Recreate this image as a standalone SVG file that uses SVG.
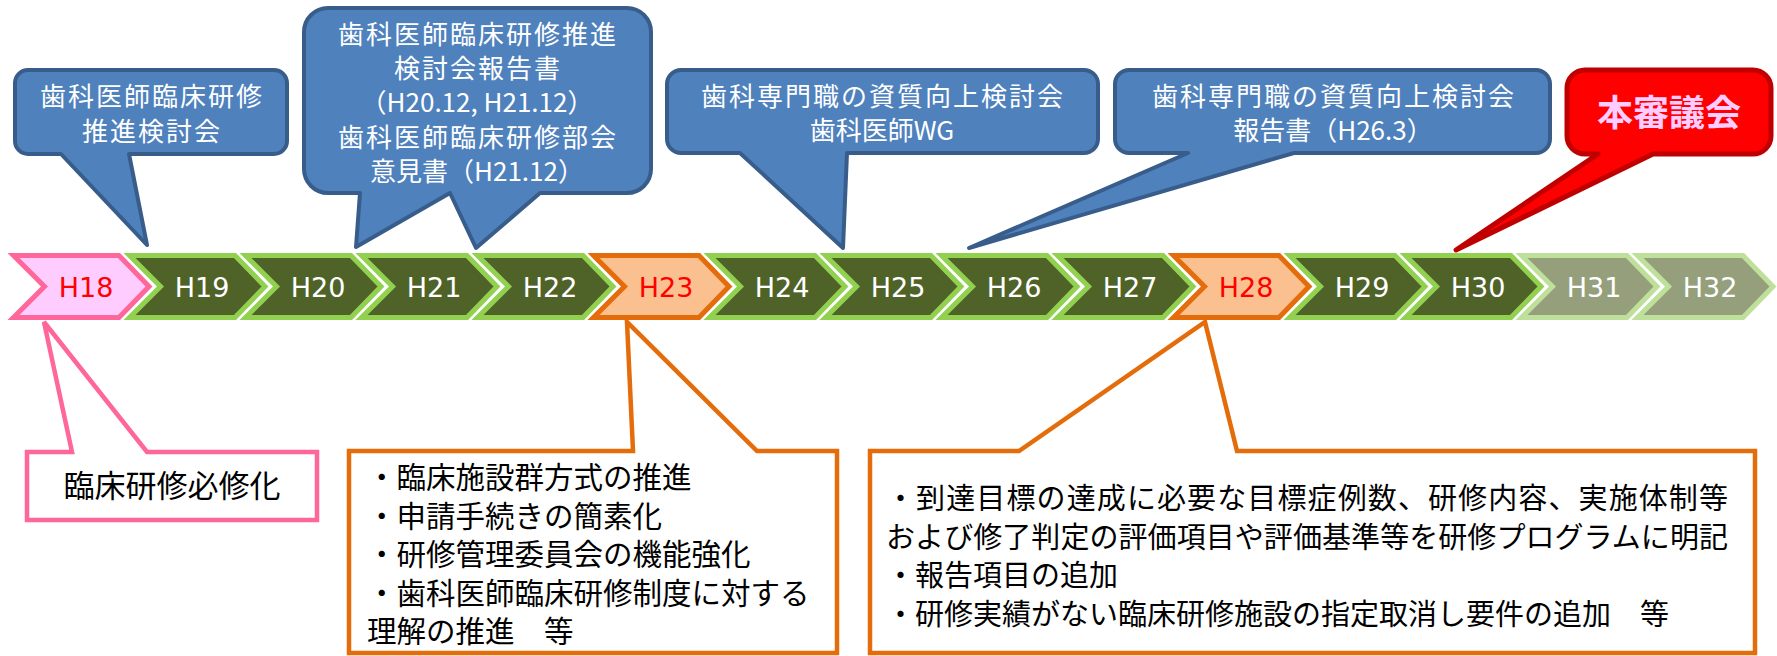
<svg xmlns="http://www.w3.org/2000/svg" width="1777" height="656" viewBox="0 0 1777 656">
<style>
.bub{fill:#4F81BD;stroke:#385D8A;stroke-width:4;stroke-linejoin:round}
.red{fill:#FF0000;stroke:#C00000;stroke-width:5;stroke-linejoin:round}
.bt{font-family:"Noto Sans CJK JP","Noto Sans CJK SC",sans-serif;font-size:26px;fill:#FFFFFF;text-anchor:middle}
.sp{letter-spacing:2px}
.rt{font-family:"Noto Sans CJK JP","Noto Sans CJK SC",sans-serif;font-size:36px;font-weight:bold;fill:#FFCCFF;text-anchor:middle}
.pinkbox{fill:#FFFFFF;stroke:#FF6699;stroke-width:4.5;stroke-linejoin:miter}
.orbox{fill:#FFFFFF;stroke:#E46C0A;stroke-width:4.5;stroke-linejoin:miter}
.kt{font-family:"Noto Sans CJK JP","Noto Sans CJK SC",sans-serif;fill:#000000}
.chev{stroke-width:5;stroke-linejoin:miter}
.c-pink{fill:#FFCCFF;stroke:#FF6699}
.c-green{fill:#4F6228;stroke:#92D050}
.c-orange{fill:#FAC090;stroke:#E46C0A}
.c-grey{fill:#959F7B;stroke:#BFE09A}
.ct{font-family:"DejaVu Sans",Verdana,sans-serif;font-size:27px;text-anchor:middle;fill:#FFFFFF}
.ct-red{fill:#FF0000}
</style>
<defs>
<polygon id="chevshape" points="3.5,255.5 109,255.5 139,286.5 109,317.5 3.5,317.5 34.5,286.5"/>
</defs>

<g id="connectors"></g>

<!-- bottom callouts -->
<g id="note-h18">
<path class="pinkbox" d="M 27 452 H 72 L 44 322 L 147 452 H 317 V 520 H 27 Z"/>
<text class="kt" x="172" y="497" font-size="31" text-anchor="middle">臨床研修必修化</text>
</g>
<g id="note-h23">
<path class="orbox" d="M 349 451 H 633 L 627 322 L 757 451 H 837 V 653 H 349 Z"/>
<g class="kt" font-size="29.5">
<text x="367" y="488">・臨床施設群方式の推進</text>
<text x="367" y="526.5">・申請手続きの簡素化</text>
<text x="367" y="565">・研修管理委員会の機能強化</text>
<text x="367" y="603.5">・歯科医師臨床研修制度に対する</text>
<text x="367" y="642">理解の推進　等</text>
</g>
</g>
<g id="note-h28">
<path class="orbox" d="M 870 451 H 1019 L 1205 322 L 1237 451 H 1755 V 653 H 870 Z"/>
<g class="kt" font-size="29">
<text x="886" y="509" textLength="842" lengthAdjust="spacing">・到達目標の達成に必要な目標症例数、研修内容、実施体制等</text>
<text x="886" y="547.5" textLength="842" lengthAdjust="spacing">および修了判定の評価項目や評価基準等を研修プログラムに明記</text>
<text x="886" y="586">・報告項目の追加</text>
<text x="886" y="624.5">・研修実績がない臨床研修施設の指定取消し要件の追加　等</text>
</g>
</g>

<!-- timeline chevrons -->
<g id="h18" transform="translate(10,0)"><use href="#chevshape" class="chev c-pink"/><text class="ct ct-red" x="76" y="297">H18</text></g>
<g id="h19" transform="translate(126,0)"><use href="#chevshape" class="chev c-green"/><text class="ct" x="76" y="297">H19</text></g>
<g id="h20" transform="translate(242,0)"><use href="#chevshape" class="chev c-green"/><text class="ct" x="76" y="297">H20</text></g>
<g id="h21" transform="translate(358,0)"><use href="#chevshape" class="chev c-green"/><text class="ct" x="76" y="297">H21</text></g>
<g id="h22" transform="translate(474,0)"><use href="#chevshape" class="chev c-green"/><text class="ct" x="76" y="297">H22</text></g>
<g id="h23" transform="translate(590,0)"><use href="#chevshape" class="chev c-orange"/><text class="ct ct-red" x="76" y="297">H23</text></g>
<g id="h24" transform="translate(706,0)"><use href="#chevshape" class="chev c-green"/><text class="ct" x="76" y="297">H24</text></g>
<g id="h25" transform="translate(822,0)"><use href="#chevshape" class="chev c-green"/><text class="ct" x="76" y="297">H25</text></g>
<g id="h26" transform="translate(938,0)"><use href="#chevshape" class="chev c-green"/><text class="ct" x="76" y="297">H26</text></g>
<g id="h27" transform="translate(1054,0)"><use href="#chevshape" class="chev c-green"/><text class="ct" x="76" y="297">H27</text></g>
<g id="h28" transform="translate(1170,0)"><use href="#chevshape" class="chev c-orange"/><text class="ct ct-red" x="76" y="297">H28</text></g>
<g id="h29" transform="translate(1286,0)"><use href="#chevshape" class="chev c-green"/><text class="ct" x="76" y="297">H29</text></g>
<g id="h30" transform="translate(1402,0)"><use href="#chevshape" class="chev c-green"/><text class="ct" x="76" y="297">H30</text></g>
<g id="h31" transform="translate(1518,0)"><use href="#chevshape" class="chev c-grey"/><text class="ct" x="76" y="297">H31</text></g>
<g id="h32" transform="translate(1634,0)"><use href="#chevshape" class="chev c-grey"/><text class="ct" x="76" y="297">H32</text></g>

<!-- top callouts -->
<g id="callout-1">
<path class="bub" d="M 28 70 H 274 A 13 13 0 0 1 287 83 V 141 A 13 13 0 0 1 274 154 H 129 L 147 245 L 61 154 H 28 A 13 13 0 0 1 15 141 V 83 A 13 13 0 0 1 28 70 Z"/>
<text class="bt sp" x="152" y="106">歯科医師臨床研修</text>
<text class="bt sp" x="152" y="141">推進検討会</text>
</g>
<g id="callout-2">
<path class="bub" d="M 328 8 H 627 A 24 24 0 0 1 651 32 V 169 A 24 24 0 0 1 627 193 H 540 L 476 248 L 450 193 L 356 247 L 360 193 H 328 A 24 24 0 0 1 304 169 V 32 A 24 24 0 0 1 328 8 Z"/>
<text class="bt sp" x="478" y="44">歯科医師臨床研修推進</text>
<text class="bt sp" x="478" y="78">検討会報告書</text>
<text class="bt" x="477" y="112">（H20.12, H21.12）</text>
<text class="bt sp" x="478" y="147">歯科医師臨床研修部会</text>
<text class="bt" x="477" y="181">意見書（H21.12）</text>
</g>
<g id="callout-3">
<path class="bub" d="M 681 70 H 1084 A 14 14 0 0 1 1098 84 V 139 A 14 14 0 0 1 1084 153 H 847 L 843 248 L 740 153 H 681 A 14 14 0 0 1 667 139 V 84 A 14 14 0 0 1 681 70 Z"/>
<text class="bt sp" x="883" y="106">歯科専門職の資質向上検討会</text>
<text class="bt" x="882" y="140">歯科医師WG</text>
</g>
<g id="callout-4">
<path class="bub" d="M 1129 70 H 1536 A 14 14 0 0 1 1550 84 V 139 A 14 14 0 0 1 1536 153 H 1294 L 969 248 L 1188 153 H 1129 A 14 14 0 0 1 1115 139 V 84 A 14 14 0 0 1 1129 70 Z"/>
<text class="bt sp" x="1334" y="106">歯科専門職の資質向上検討会</text>
<text class="bt" x="1333" y="140">報告書（H26.3）</text>
</g>
<g id="callout-5">
<path class="red" d="M 1585 70 H 1753 A 18 18 0 0 1 1771 88 V 136 A 18 18 0 0 1 1753 154 H 1653 L 1456 250 L 1598 154 H 1585 A 18 18 0 0 1 1567 136 V 88 A 18 18 0 0 1 1585 70 Z"/>
<text class="rt" x="1669" y="126">本審議会</text>
</g>
</svg>
